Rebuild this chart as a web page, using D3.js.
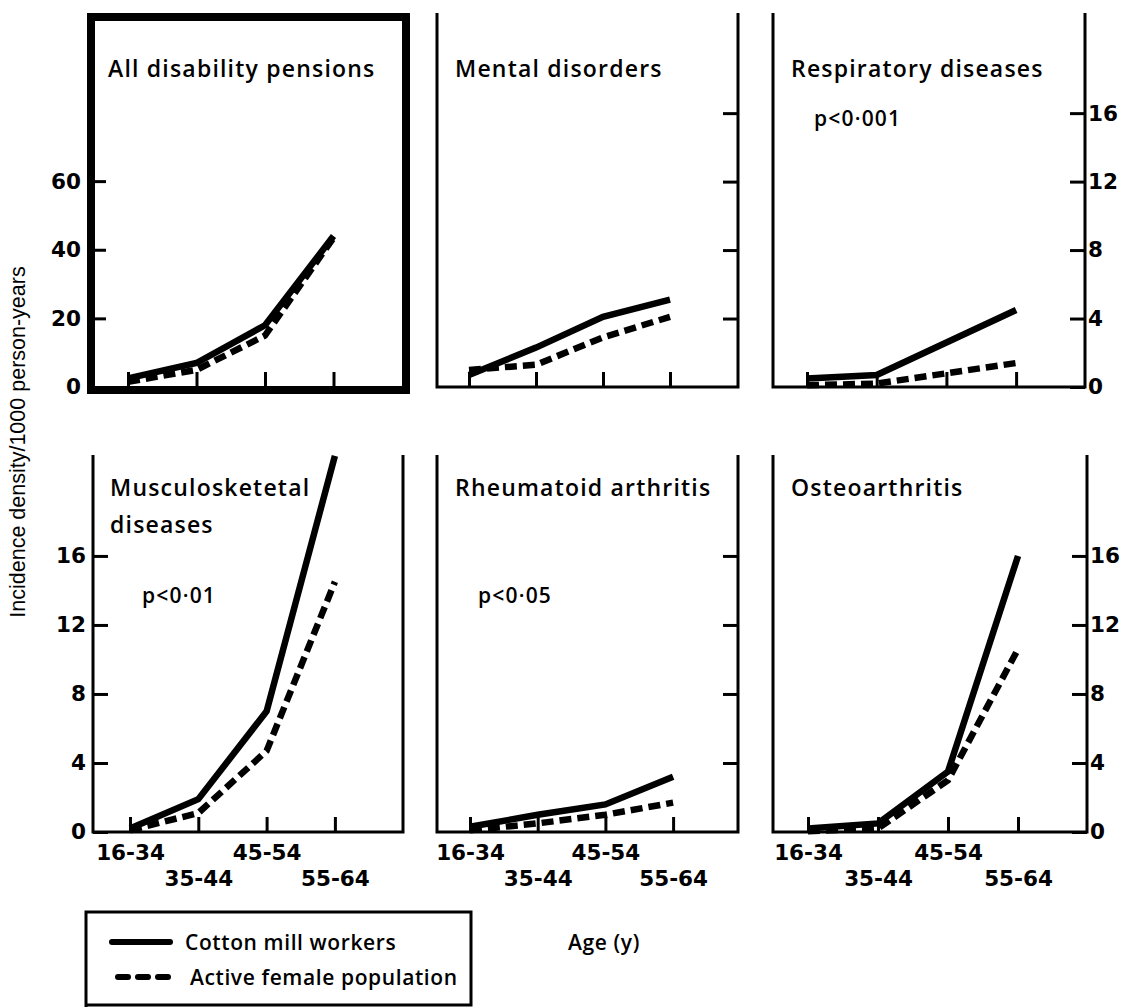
<!DOCTYPE html>
<html>
<head>
<meta charset="utf-8">
<script src="https://cdn.jsdelivr.net/npm/d3@7"></script>
<style>
  body { margin: 0; background: #fff; }
  svg { display: block; }
  .title { font-family: "Open Sans", sans-serif; font-size: 23px; font-weight: 600; letter-spacing: 1.2px; fill: #000; }
  .pval { font-family: "Open Sans", sans-serif; font-size: 21px; font-weight: 600; letter-spacing: 1.2px; fill: #000; }
  .tick text { font-family: "DejaVu Sans", sans-serif; font-weight: bold; font-size: 21.5px; fill: #000; }
  .tick line { stroke: #000; stroke-width: 3; }
  .legend text, .xtitle { font-family: "Open Sans", sans-serif; font-size: 21px; font-weight: 600; letter-spacing: 0.6px; fill: #000; }
  .ytitle { font-family: "Liberation Sans", Arial, sans-serif; font-size: 21.5px; fill: #000; }
</style>
</head>
<body>
<svg id="chart" width="1124" height="1007"></svg>
<script>
"use strict";

// age groups on the x axis
const ages = ["16-34", "35-44", "45-54", "55-64"];

// incidence density / 1000 person-years
const allCotton = [2.5, 7, 18, 44];
const allActive = [1.5, 5, 15, 43.5];
const mentalCotton = [0.7, 2.3, 4.1, 5.1];
const mentalActive = [1.0, 1.3, 2.9, 4.1];
const respCotton = [0.5, 0.7, 2.6, 4.5];
const respActive = [0.1, 0.2, 0.8, 1.4];
const muscCotton = [0.2, 1.9, 7.0, 21.8];
const muscActive = [0.1, 1.1, 4.7, 14.5];
const rheumCotton = [0.3, 1.0, 1.6, 3.2];
const rheumActive = [0.1, 0.5, 1.0, 1.7];
const osteoCotton = [0.2, 0.5, 3.5, 16];
const osteoActive = [0.05, 0.2, 3.0, 10.6];

const ticksAll = [0, 20, 40, 60];
const ticksSmall = [0, 4, 8, 12, 16];
const ticksInner = [4, 8, 12, 16];

const titles = [
  ["All disability pensions"], ["Mental disorders"], ["Respiratory diseases"],
  ["Musculosketetal", "diseases"], ["Rheumatoid arthritis"], ["Osteoarthritis"]
];
const pvalues = [null, null, "p<0·001", "p<0·01", "p<0·05", null];
const legendLabels = ["Cotton mill workers", "Active female population"];

// layout
const rows = [{ top: 13, bottom: 387 }, { top: 455, bottom: 832 }];
const cols = [
  [{ left: 91, right: 406 }, { left: 437, right: 738 }, { left: 773, right: 1085 }],
  [{ left: 93, right: 403 }, { left: 437, right: 738 }, { left: 773, right: 1087 }]
];
const xStart = [[128, 469, 807], [130, 470, 808]];
const xStep = [[68.5, 67, 69.7], [68.3, 67.7, 70]];

const panels = [
  { cotton: allCotton, active: allActive, max: 109, ticks: ticksAll, side: "left" },
  { cotton: mentalCotton, active: mentalActive, max: 21.85, ticks: ticksInner, side: "inner" },
  { cotton: respCotton, active: respActive, max: 21.85, ticks: ticksSmall, side: "right" },
  { cotton: muscCotton, active: muscActive, max: 21.85, ticks: ticksSmall, side: "left" },
  { cotton: rheumCotton, active: rheumActive, max: 21.85, ticks: ticksInner, side: "inner" },
  { cotton: osteoCotton, active: osteoActive, max: 21.85, ticks: ticksSmall, side: "right" }
];

const svg = d3.select("#chart");

panels.forEach((p, i) => {
  const r = Math.floor(i / 3);
  const c = i % 3;
  const row = rows[r];
  const col = cols[r][c];
  const g = svg.append("g");

  const x = d3.scalePoint()
    .domain(ages)
    .range([xStart[r][c], xStart[r][c] + 3 * xStep[r][c]]);
  const y = d3.scaleLinear().domain([0, p.max]).range([row.bottom, row.top]);

  // frame
  if (i === 0) {
    g.append("rect")
      .attr("x", col.left).attr("y", row.top + 4)
      .attr("width", col.right - col.left).attr("height", row.bottom + 3 - row.top - 4)
      .attr("fill", "none").attr("stroke", "#000").attr("stroke-width", 8);
  } else {
    g.append("path")
      .attr("d", `M${col.left},${row.top}V${row.bottom}H${col.right}V${row.top}`)
      .attr("fill", "none").attr("stroke", "#000").attr("stroke-width", 3);
  }

  // y axis
  let yAxis;
  if (p.side === "left") {
    yAxis = d3.axisLeft(y).tickPadding(i === 0 ? 10 : 7);
  } else {
    yAxis = d3.axisRight(y).tickPadding(3);
  }
  yAxis.tickValues(p.ticks).tickSizeInner(-15).tickSizeOuter(0);
  if (p.side === "inner") yAxis.tickFormat("");
  g.append("g")
    .attr("transform", `translate(${p.side === "left" ? col.left : col.right},0)`)
    .call(yAxis)
    .call(a => a.select(".domain").remove());

  // x axis
  const xAxis = d3.axisBottom(x).tickSizeInner(-15).tickSizeOuter(0).tickPadding(13);
  if (r === 0) xAxis.tickFormat("");
  g.append("g")
    .attr("transform", `translate(0,${row.bottom})`)
    .call(xAxis)
    .call(a => a.select(".domain").remove())
    .call(a => a.selectAll(".tick text")
      .attr("transform", (d, k) => (k % 2 ? "translate(0,26)" : null)));

  // series
  const line = d3.line().x((d, k) => x(ages[k])).y(d => y(d));
  g.append("path")
    .datum(p.active)
    .attr("d", line)
    .attr("fill", "none").attr("stroke", "#000").attr("stroke-width", 6.5)
    .attr("stroke-dasharray", "12,6");
  g.append("path")
    .datum(p.cotton)
    .attr("d", line)
    .attr("fill", "none").attr("stroke", "#000").attr("stroke-width", 6.5);

  // titles
  const tx = col.left + (c === 0 ? 17 : 18);
  const t = g.append("text").attr("class", "title")
    .attr("x", tx)
    .attr("y", r === 0 ? 77 : 496);
  titles[i].forEach((s, k) => {
    t.append("tspan").attr("x", tx).attr("dy", k ? 37 : 0).text(s);
  });

  if (pvalues[i]) {
    g.append("text").attr("class", "pval")
      .attr("x", col.left + (c === 0 ? 49 : 41))
      .attr("y", r === 0 ? 126 : 603)
      .text(pvalues[i]);
  }
});

// y axis title
svg.append("text").attr("class", "ytitle")
  .attr("transform", "translate(25,442) rotate(-90)")
  .attr("text-anchor", "middle")
  .text("Incidence density/1000 person-years");

// x axis title
svg.append("text").attr("class", "xtitle")
  .attr("x", 604).attr("y", 950)
  .attr("text-anchor", "middle")
  .text("Age (y)");

// legend
const legend = svg.append("g").attr("class", "legend");
legend.append("path")
  .attr("d", "M86,1010V912H471V1005H86")
  .attr("fill", "none").attr("stroke", "#000").attr("stroke-width", 3);
const legendY = d3.scalePoint().domain(legendLabels).range([942, 977]);
legendLabels.forEach((lab, k) => {
  legend.append("line")
    .attr("x1", k ? 118 : 112).attr("x2", 170)
    .attr("y1", legendY(lab)).attr("y2", legendY(lab))
    .attr("stroke", "#000").attr("stroke-width", 6)
    .attr("stroke-linecap", "round")
    .attr("stroke-dasharray", k ? "10,10" : null);
  legend.append("text")
    .attr("x", k ? 190 : 185).attr("y", legendY(lab) + 8)
    .text(lab);
});
</script>
</body>
</html>
